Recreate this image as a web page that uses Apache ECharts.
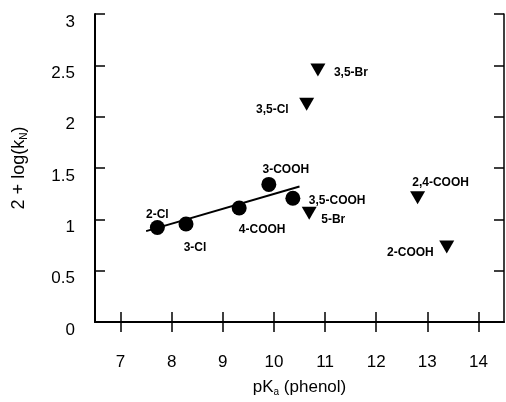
<!DOCTYPE html>
<html>
<head>
<meta charset="utf-8">
<script src="https://cdn.jsdelivr.net/npm/echarts@6/dist/echarts.min.js"></script>
<style>
html, body { margin: 0; padding: 0; background: #fff; }
#chart { width: 506px; height: 402px; }
</style>
</head>
<body>
<div id="chart"></div>
<script>
// tick values
var xTicks = [7, 8, 9, 10, 11, 12, 13, 14]
var yTicks = [0, 0.5, 1, 1.5, 2, 2.5, 3]

// phenols on the correlation line (circles)
var circleNames = ['2-Cl', '3-Cl', '4-COOH', '3-COOH', '3,5-COOH']
var circleX = [7.72, 8.28, 9.32, 9.90, 10.37]
var circleY = [0.92, 0.955, 1.11, 1.34, 1.205]

// deviating phenols (triangles)
var triNames = ['5-Br', '3,5-Cl', '3,5-Br', '2,4-COOH', '2-COOH']
var triX = [10.69, 10.64, 10.86, 12.81, 13.38]
var triY = [1.06, 2.12, 2.455, 1.21, 0.73]

// fitted line end points
var fitX = [7.5, 10.5]
var fitY = [0.885, 1.32]

// label placement: [align, dx, dy]
var labelPlace = {
  '2-Cl': ['center', 0, -13],
  '3-Cl': ['center', 9, 24],
  '4-COOH': ['center', 23, 22],
  '3-COOH': ['center', 17, -15],
  '3,5-COOH': ['left', 16, 2],
  '5-Br': ['left', 12, 7],
  '3,5-Cl': ['right', -18, 5],
  '3,5-Br': ['left', 16, 3],
  '2,4-COOH': ['center', 23, -15],
  '2-COOH': ['right', -13, 6]
}

var font = 'Liberation Sans, Arial, Helvetica, sans-serif'

function buildPoints (names, xs, ys) {
  return names.map(function (n, i) {
    var p = labelPlace[n]
    return {
      name: n,
      value: [xs[i], ys[i]],
      label: {
        show: true,
        position: 'inside',
        align: p[0],
        verticalAlign: 'middle',
        offset: [p[1], p[2]],
        formatter: '{b}',
        color: '#000',
        fontSize: 12,
        fontWeight: 'bold',
        fontFamily: font
      }
    }
  })
}

var axisLine = { show: true, lineStyle: { color: '#000', width: 2 } }
var tick = { show: true, inside: true, length: 10, lineStyle: { color: '#000', width: 1.5 } }

var myChart = echarts.init(document.getElementById('chart'))
myChart.setOption({
  animation: false,
  backgroundColor: '#fff',
  grid: { left: 95, right: 2, top: 14, bottom: 76 },
  xAxis: [
    {
      type: 'value',
      position: 'bottom',
      min: 6.5,
      max: 14.5,
      axisLine: axisLine,
      axisTick: Object.assign({ customValues: xTicks }, tick),
      axisLabel: {
        customValues: xTicks,
        margin: 32,
        fontSize: 17,
        color: '#000',
        fontFamily: font
      },
      splitLine: { show: false },
      name: 'pK{s|a} (phenol)',
      nameLocation: 'middle',
      nameGap: 56,
      nameTextStyle: {
        fontSize: 17,
        color: '#000',
        fontFamily: font,
        rich: { s: { fontSize: 10, padding: [9, 0, 0, 0], fontFamily: font, color: '#000' } }
      }
    },
    {
      type: 'value',
      position: 'top',
      min: 6.5,
      max: 14.5,
      axisLine: { show: true, lineStyle: { color: '#000', width: 1 } },
      axisTick: Object.assign({ customValues: xTicks }, tick),
      axisLabel: { show: false },
      splitLine: { show: false }
    }
  ],
  yAxis: [
    {
      type: 'value',
      position: 'left',
      min: 0,
      max: 3,
      interval: 0.5,
      axisLine: axisLine,
      axisTick: tick,
      axisLabel: {
        margin: 20,
        fontSize: 17,
        color: '#000',
        fontFamily: font,
        verticalAlign: 'top',
        lineHeight: 16
      },
      splitLine: { show: false },
      name: '2 + log(k{s|N})',
      nameLocation: 'middle',
      nameRotate: 90,
      nameGap: 66,
      nameTextStyle: {
        fontSize: 18,
        color: '#000',
        fontFamily: font,
        rich: { s: { fontSize: 10, padding: [9, 0, 0, 0], fontFamily: font, color: '#000' } }
      }
    },
    {
      type: 'value',
      position: 'right',
      min: 0,
      max: 3,
      interval: 0.5,
      axisLine: { show: true, lineStyle: { color: '#000', width: 1.5 } },
      axisTick: tick,
      axisLabel: { show: false },
      splitLine: { show: false }
    }
  ],
  series: [
    {
      name: 'fit',
      type: 'line',
      data: fitX.map(function (x, i) { return [x, fitY[i]] }),
      showSymbol: false,
      lineStyle: { color: '#000', width: 2 },
      z: 1
    },
    {
      name: 'circles',
      type: 'scatter',
      symbol: 'circle',
      symbolSize: 15,
      itemStyle: { color: '#000', opacity: 1 },
      data: buildPoints(circleNames, circleX, circleY),
      z: 3
    },
    {
      name: 'triangles',
      type: 'scatter',
      symbol: 'triangle',
      symbolRotate: 180,
      symbolSize: [15, 13],
      itemStyle: { color: '#000', opacity: 1 },
      data: buildPoints(triNames, triX, triY),
      z: 3
    }
  ]
})
</script>
</body>
</html>
